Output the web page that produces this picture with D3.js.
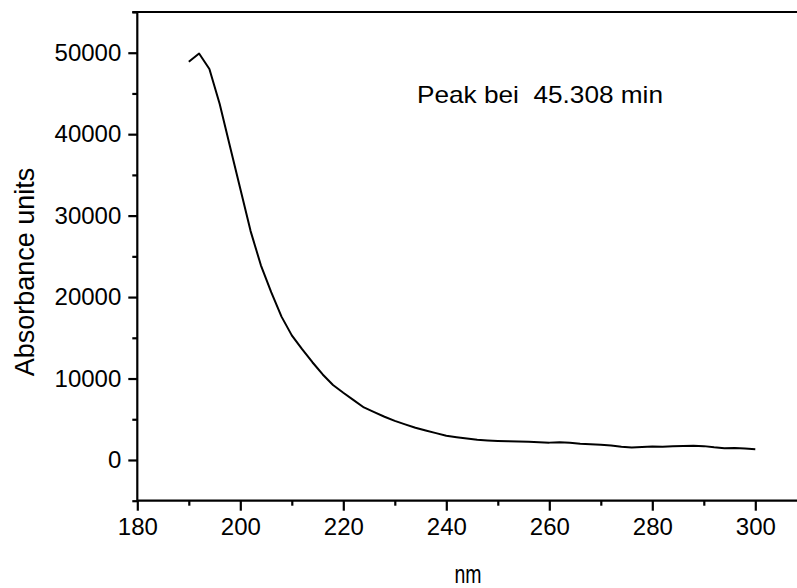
<!DOCTYPE html>
<html>
<head>
<meta charset="utf-8">
<script src="https://cdn.jsdelivr.net/npm/d3@7"></script>
<style>
  html, body { margin: 0; padding: 0; background: #fff; }
  svg { display: block; }
  text { font-family: "Liberation Sans", Arial, sans-serif; fill: #000; }
</style>
</head>
<body>
<svg id="chart" width="797" height="588"></svg>
<script>
// UV spectrum of the peak, sampled every 2 nm
const wavelengths = d3.range(190, 301, 2);
const absorbance = [
  48900, 49900, 48000, 43700, 38500, 33300, 28100, 23900, 20600, 17600,
  15300, 13600, 12000, 10500, 9200, 8250, 7350, 6450, 5880, 5310,
  4800, 4370, 3950, 3620, 3300, 2970, 2800, 2650, 2480, 2400,
  2340, 2300, 2280, 2250, 2180, 2130, 2190, 2100, 2000, 1930,
  1880, 1780, 1620, 1520, 1580, 1640, 1620, 1680, 1720, 1760,
  1700, 1560, 1450, 1460, 1400, 1320
];
const xMajorTicks = [180, 200, 220, 240, 260, 280, 300];
const xMinorTicks = [190, 210, 230, 250, 270, 290, 310];
const yMajorTicks = [0, 10000, 20000, 30000, 40000, 50000];
const yMinorTicks = [-5000, 5000, 15000, 25000, 35000, 45000, 55000];
const xTitle = "nm";
const yTitle = "Absorbance units";
const note = "Peak bei  45.308 min";

const svg = d3.select("#chart");
const plotLeft = 137.3, plotTop = 12, plotBottom = 500.7;

const x = d3.scaleLinear().domain([180, 310]).range([plotLeft, plotLeft + 130 * 5.15]);
const y = d3.scaleLinear().domain([-5000, 55000]).range([plotBottom, plotTop]);

const fontSize = 24;
const fontFamily = "'Liberation Sans', Arial, sans-serif";

// left axis
const yAxisMajor = d3.axisLeft(y).tickValues(yMajorTicks).tickSize(9).tickPadding(7).tickFormat(d3.format("d"));
const yAxisMinor = d3.axisLeft(y).tickValues(yMinorTicks).tickSize(5).tickFormat("");
const gy = svg.append("g").attr("transform", `translate(${plotLeft},0)`).call(yAxisMajor);
svg.append("g").attr("transform", `translate(${plotLeft},0)`).call(yAxisMinor).select(".domain").remove();
gy.selectAll("text").style("font-size", fontSize + "px").style("font-family", fontFamily);

// bottom axis
const xAxisMajor = d3.axisBottom(x).tickValues(xMajorTicks).tickSize(10).tickPadding(7).tickFormat(d3.format("d"));
const xAxisMinor = d3.axisBottom(x).tickValues(xMinorTicks).tickSize(5).tickFormat("");
const gx = svg.append("g").attr("transform", `translate(0,${plotBottom})`).call(xAxisMajor);
svg.append("g").attr("transform", `translate(0,${plotBottom})`).call(xAxisMinor).select(".domain").remove();
gx.selectAll("text").style("font-size", fontSize + "px").style("font-family", fontFamily);

svg.selectAll(".domain, .tick line").attr("stroke", "#000").attr("stroke-width", 2.2);
// plain axis lines without end caps
gy.select(".domain").attr("d", `M0,${plotTop}V${plotBottom}`);
gx.select(".domain").attr("d", `M${plotLeft},0H${x(310)}`);

// top frame line
svg.append("line")
  .attr("x1", x(180) - 5).attr("x2", x(310))
  .attr("y1", y(55000)).attr("y2", y(55000))
  .attr("stroke", "#000").attr("stroke-width", 2.2);

// spectrum curve
const line = d3.line().x((d, i) => x(wavelengths[i])).y(d => y(d)).curve(d3.curveLinear);
svg.append("path")
  .datum(absorbance)
  .attr("d", line)
  .attr("fill", "none")
  .attr("stroke", "#000")
  .attr("stroke-width", 2)
  .attr("stroke-linejoin", "round");

// annotation
svg.append("text")
  .attr("x", 417).attr("y", 103)
  .attr("xml:space", "preserve")
  .attr("textLength", 246)
  .attr("lengthAdjust", "spacingAndGlyphs")
  .style("white-space", "pre")
  .style("font-size", "24px")
  .text(note);

// axis titles
svg.append("text")
  .attr("transform", "translate(34,272) rotate(-90)")
  .attr("text-anchor", "middle")
  .style("font-size", "27px")
  .text(yTitle);

svg.append("text")
  .attr("transform", "translate(468,583) scale(0.75,1)")
  .attr("text-anchor", "middle")
  .style("font-size", "26px")
  .text(xTitle);
</script>
</body>
</html>
